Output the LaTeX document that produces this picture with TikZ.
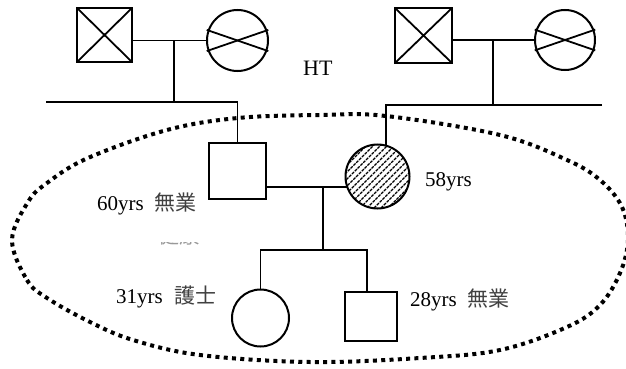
\documentclass[tikz,border=0pt]{standalone}
\usepackage{fontspec}
\setmainfont{Liberation Serif}
\newfontfamily\cjk{Noto Sans CJK JP}
\begin{document}
\begin{tikzpicture}[x=1pt,y=-1pt,
  person/.style={draw, line width=2pt, inner sep=0pt, outer sep=0pt},
  malebox/.style={person, rectangle},
  femalecirc/.style={person, circle},
  link/.style={line width=1.8pt},
  hatch/.style={line width=1.1pt, dash pattern=on 3pt off 1pt},
  dotline/.style={line width=4pt, dash pattern=on 4pt off 4.3pt},
  txt/.style={font=\fontsize{21}{25}\selectfont, inner sep=0pt, anchor=base west},
  jp/.style={text=black!75}]
\useasboundingbox (0,0) rectangle (626,369);

% ---- grandparents (paternal side)
\node[malebox, minimum width=55pt, minimum height=54pt] (gf1) at (104.5,35) {};
\node[femalecirc, minimum size=61pt] (gm1) at (237.5,40.5) {};
% ---- grandparents (maternal side)
\node[malebox, minimum width=57pt, minimum height=55pt] (gf2) at (423.5,35.5) {};
\node[femalecirc, minimum size=60pt] (gm2) at (565,40) {};
% ---- parents
\node[malebox, minimum width=57pt, minimum height=56pt] (father) at (237.5,171) {};
% ---- children
\node[femalecirc, minimum size=57pt] (daughter) at (260.5,318) {};
\node[malebox, minimum width=52pt, minimum height=49pt] (son) at (371,316.5) {};

% deceased marks
\draw[link] (gf1.north west) -- (gf1.south east) (gf1.north east) -- (gf1.south west);
\draw[link] (gf2.north west) -- (gf2.south east) (gf2.north east) -- (gf2.south west);
\draw[link, shorten <=-2pt, shorten >=-2pt] (gm1.161) -- (gm1.-19);
\draw[link, shorten <=-2pt, shorten >=-2pt] (gm1.199) -- (gm1.19);
\draw[link, shorten <=-2pt, shorten >=-2pt] (gm2.161) -- (gm2.-19);
\draw[link, shorten <=-2pt, shorten >=-2pt] (gm2.199) -- (gm2.19);

% mother, hatched
\begin{scope}
  \clip (377.5,176.5) circle (32pt);
  \foreach \k in {-70,-63,...,70}
    \draw[hatch] (377.5+\k-40,216.5) -- ++(80,-80);
\end{scope}
\node[femalecirc, minimum size=64pt] (mother) at (377.5,176.5) {};

% paternal family lines
\draw[link] (gf1.east |- gm1.west) -- (gm1.west);
\coordinate (d1) at (174,40.5);
\coordinate (s1) at (174,102);
\coordinate (s1L) at (46,102);
\draw[link] (d1) -- (s1);
\draw[link] (s1L) -- (s1L -| father.north) -- (father.north);

% maternal family lines
\draw[link] (gf2.east |- gm2.west) -- (gm2.west);
\coordinate (d2) at (493,40);
\coordinate (s2) at (493,105);
\coordinate (s2R) at (602,105);
\draw[link] (d2) -- (s2);
\draw[link] (s2R) -- (mother.75 |- s2R) -- (mother.75);

% parents and children
\draw[link] (father.east |- mother.199) -- (mother.199);
\coordinate (d3) at (323,186.9);
\coordinate (s3) at (323,250);
\coordinate (s3L) at (260.5,250);
\coordinate (s3R) at (367,250);
\draw[link] (d3) -- (s3);
\draw[link] (daughter.north) -- (s3L) -- (s3R) -- (s3R |- son.north);

% household boundary
\draw[dotline] plot[smooth cycle, tension=0.6] coordinates {
  (12,240) (27,280) (47,298) (90,322) (133,340) (200,355) (310,362)
  (420,358) (500,350) (567,327) (600,305) (620,273) (628,240)
  (622,207) (600,180) (567,160) (500,135) (386,116) (320,115)
  (238,118) (167,130) (88,158) (47,183) (28,202)};

% labels
\node[txt, font=\fontsize{22}{26}\selectfont] (ht) at (303,75) {HT};
\node[txt] (lf) at (97,210) {60yrs\hspace{11pt}{\cjk\color{black!75}無業}};
\node[txt] (lm) at (425,186) {58yrs};
\node[txt] (ld) at (116,303) {31yrs\hspace{12pt}{\cjk\color{black!75}護士}};
\node[txt] (ls) at (410,306) {28yrs\hspace{11pt}{\cjk\color{black!75}無業}};
\begin{scope}
  \clip (150,242.5) rectangle (215,246);
  \node[txt, text=black!40] (lh) at (158,243) {\cjk 健康};
\end{scope}
\end{tikzpicture}
\end{document}
